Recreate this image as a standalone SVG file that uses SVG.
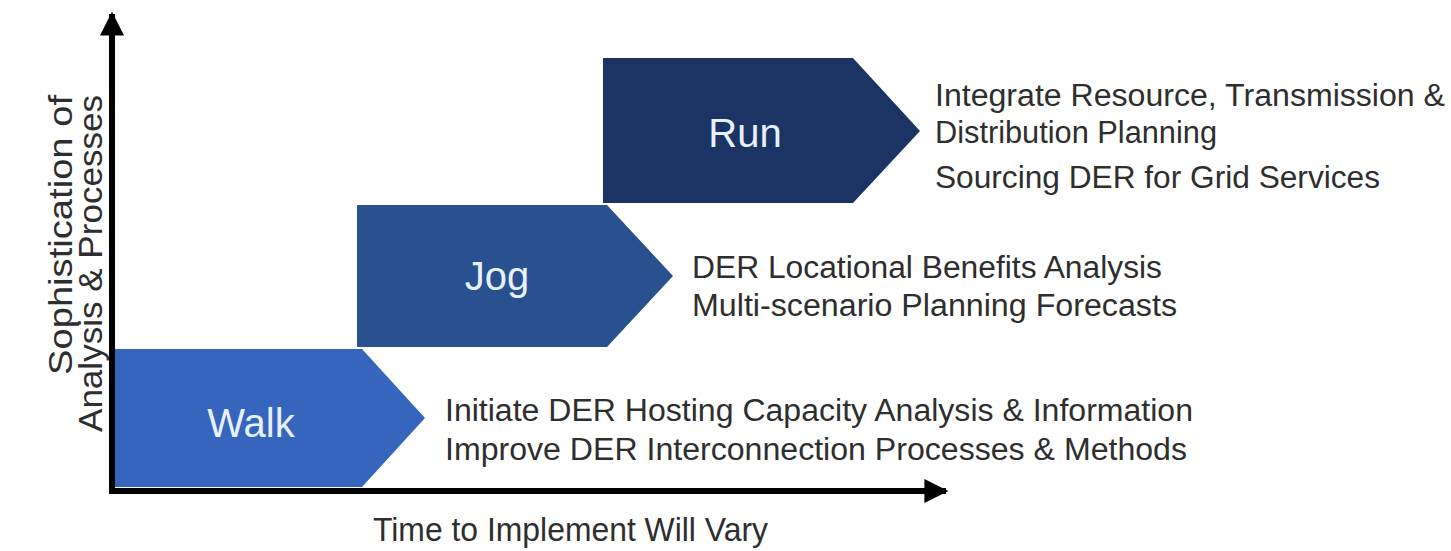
<svg xmlns="http://www.w3.org/2000/svg" width="1451" height="551" viewBox="0 0 1451 551">
<style>
.lbl{font-family:"Liberation Sans",Arial,sans-serif;font-size:40px;fill:#e8f0fb;text-anchor:middle}
.desc{font-family:"Liberation Sans",Arial,sans-serif;font-size:31px;fill:#2e2e2e}
.ax{font-family:"Liberation Sans",Arial,sans-serif;font-size:33px;fill:#2e2e2e}
.axis{stroke:#000;stroke-width:6;fill:none}
</style>
<defs>
<marker id="ah" viewBox="0 0 10 10" refX="9" refY="5" markerWidth="4" markerHeight="4" markerUnits="strokeWidth" orient="auto">
<path d="M0,0 L10,5 L0,10 z" fill="#000"/>
</marker>
</defs>
<rect width="1451" height="551" fill="#fff"/>
<g id="walk">
<polygon points="115,349 362,349 425,418 362,487 115,487" fill="#3565bd"/>
<text class="lbl" x="251" y="437">Walk</text>
</g>
<g id="jog">
<polygon points="357,205 607,205 673,276 607,347 357,347" fill="#29508f"/>
<text class="lbl" x="497" y="290">Jog</text>
</g>
<g id="run">
<polygon points="603,58 853,58 920,131 853,203 603,203" fill="#1b3464"/>
<text class="lbl" x="745" y="147">Run</text>
</g>
<g id="run-desc">
<text class="desc" x="935" y="106" textLength="510" lengthAdjust="spacingAndGlyphs">Integrate Resource, Transmission &amp;</text>
<text class="desc" x="935" y="143" textLength="282" lengthAdjust="spacingAndGlyphs">Distribution Planning</text>
<text class="desc" x="935" y="188" textLength="445" lengthAdjust="spacingAndGlyphs">Sourcing DER for Grid Services</text>
</g>
<g id="jog-desc">
<text class="desc" x="692" y="278" textLength="470" lengthAdjust="spacingAndGlyphs">DER Locational Benefits Analysis</text>
<text class="desc" x="692" y="316" textLength="485" lengthAdjust="spacingAndGlyphs">Multi-scenario Planning Forecasts</text>
</g>
<g id="walk-desc">
<text class="desc" x="445" y="421" textLength="748" lengthAdjust="spacingAndGlyphs">Initiate DER Hosting Capacity Analysis &amp; Information</text>
<text class="desc" x="445" y="460" textLength="742" lengthAdjust="spacingAndGlyphs">Improve DER Interconnection Processes &amp; Methods</text>
</g>
<g id="connectors">
<line class="axis" x1="112" y1="493" x2="112" y2="14" marker-end="url(#ah)"/>
<line class="axis" x1="109" y1="491" x2="946" y2="491" marker-end="url(#ah)"/>
</g>
<g id="axis-labels">
<text class="ax" x="373" y="541" textLength="395" lengthAdjust="spacingAndGlyphs">Time to Implement Will Vary</text>
<text class="ax" transform="translate(72,375) rotate(-90)" textLength="280" lengthAdjust="spacingAndGlyphs">Sophistication of</text>
<text class="ax" transform="translate(102,432) rotate(-90)" textLength="337" lengthAdjust="spacingAndGlyphs">Analysis &amp; Processes</text>
</g>
</svg>
